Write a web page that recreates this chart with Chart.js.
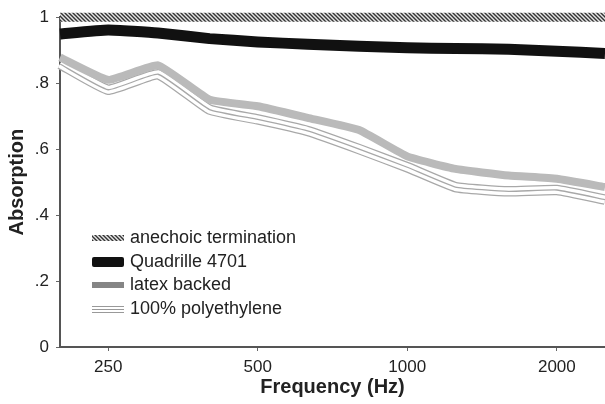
<!DOCTYPE html>
<html>
<head>
<meta charset="utf-8">
<script src="https://cdn.jsdelivr.net/npm/chart.js@4.4.1/dist/chart.umd.min.js"></script>
<style>
  html, body { margin: 0; padding: 0; background: #fff; }
  canvas { display: block; }
</style>
</head>
<body>
<canvas id="absorptionChart" width="605" height="404"></canvas>
<script>
// Third-octave band centre frequencies (Hz)
const freqs = [200, 250, 315, 400, 500, 630, 800, 1000, 1250, 1600, 2000, 2500];

// Absorption values
const anechoic = [1, 1, 1, 1, 1, 1, 1, 1, 1, 1, 1, 1];
const quadrille = [0.949, 0.961, 0.952, 0.935, 0.925, 0.918, 0.912, 0.907, 0.905, 0.903, 0.897, 0.89];
const latex = [0.878, 0.81, 0.854, 0.75, 0.73, 0.695, 0.658, 0.578, 0.54, 0.52, 0.51, 0.485];
const polyethylene = [0.858, 0.78, 0.827, 0.72, 0.69, 0.655, 0.6, 0.545, 0.485, 0.472, 0.476, 0.447];

const seriesLabels = ['anechoic termination', 'Quadrille 4701', 'latex backed', '100% polyethylene'];

// Axis ticks
const xTicks = [250, 500, 1000, 2000];
const yTicks = [0, 0.2, 0.4, 0.6, 0.8, 1];
const yTickLabels = ['0', '.2', '.4', '.6', '.8', '1'];

const FONT = "'Liberation Sans', Arial, Helvetica, sans-serif";
const TEXT = '#222';

const toPoints = vals => vals.map((v, i) => ({ x: freqs[i], y: v }));

// Diagonal hatch used for the anechoic line
function makeHatch() {
  const c = document.createElement('canvas');
  c.width = 4; c.height = 4;
  const g = c.getContext('2d');
  g.fillStyle = '#e6e6e6';
  g.fillRect(0, 0, 4, 4);
  g.strokeStyle = '#333';
  g.lineWidth = 1.4;
  g.beginPath();
  g.moveTo(-1, -1); g.lineTo(5, 5);
  g.moveTo(-5, -1); g.lineTo(1, 5);
  g.moveTo(3, -1); g.lineTo(9, 5);
  g.stroke();
  return g.createPattern(c, 'repeat');
}
const hatch = makeHatch();

const baseLine = {
  pointRadius: 0,
  pointHoverRadius: 0,
  tension: 0.12,
  borderJoinStyle: 'round',
  clip: false,
  fill: false,
};

// Legend drawn inside the plot, lower left
const insideLegend = {
  id: 'insideLegend',
  afterDraw(chart) {
    const ctx = chart.ctx;
    const x0 = 92, x1 = 124, tx = 130;
    const rows = [238, 262, 285, 309];
    ctx.save();
    // anechoic
    ctx.fillStyle = hatch;
    ctx.fillRect(x0, rows[0] - 3, x1 - x0, 6);
    // quadrille
    ctx.fillStyle = '#111';
    ctx.beginPath();
    ctx.roundRect(x0, rows[1] - 5, x1 - x0, 10, 2);
    ctx.fill();
    // latex
    ctx.fillStyle = '#858585';
    ctx.fillRect(x0, rows[2] - 3, x1 - x0, 6);
    // polyethylene
    ctx.strokeStyle = '#999';
    ctx.lineWidth = 1;
    [-3, 0, 3].forEach(d => {
      ctx.beginPath();
      ctx.moveTo(x0, rows[3] + d + 0.5);
      ctx.lineTo(x1, rows[3] + d + 0.5);
      ctx.stroke();
    });
    ctx.fillStyle = TEXT;
    ctx.font = '18px ' + FONT;
    ctx.textBaseline = 'middle';
    ctx.textAlign = 'left';
    seriesLabels.forEach((s, i) => ctx.fillText(s, tx, rows[i]));
    ctx.restore();
  }
};

const ctx = document.getElementById('absorptionChart').getContext('2d');

new Chart(ctx, {
  type: 'line',
  data: {
    datasets: [
      { ...baseLine, label: seriesLabels[0], data: toPoints(anechoic), borderColor: hatch, borderWidth: 9, tension: 0 },
      { ...baseLine, label: seriesLabels[1], data: toPoints(quadrille), borderColor: '#111', borderWidth: 11 },
      { ...baseLine, label: seriesLabels[2], data: toPoints(latex), borderColor: '#bababa', borderWidth: 8 },
      // polyethylene: three thin strands built from one outline
      { ...baseLine, label: seriesLabels[3], data: toPoints(polyethylene), borderColor: '#a8a8a8', borderWidth: 1.3 },
      { ...baseLine, label: '', data: toPoints(polyethylene), borderColor: '#fff', borderWidth: 8 },
      { ...baseLine, label: '', data: toPoints(polyethylene), borderColor: '#a8a8a8', borderWidth: 10.5 },
    ],
  },
  options: {
    responsive: false,
    animation: false,
    layout: { padding: { top: 14, right: 0, left: 0, bottom: 0 } },
    scales: {
      x: {
        type: 'logarithmic',
        min: 200,
        max: 2500,
        afterBuildTicks: s => { s.ticks = xTicks.map(v => ({ value: v })); },
        afterFit: s => { s.height = 57; },
        ticks: {
          callback: v => String(v),
          autoSkip: false,
          maxRotation: 0,
          padding: 6,
          color: TEXT,
          font: { family: FONT, size: 17 },
        },
        grid: { drawOnChartArea: false, drawTicks: true, tickLength: 4, tickColor: '#666' },
        border: { color: '#555', width: 2 },
        title: {
          display: true,
          text: 'Frequency (Hz)',
          color: TEXT,
          font: { family: FONT, size: 20, weight: 'bold' },
          padding: { top: 0, bottom: 5 },
        },
      },
      y: {
        min: 0,
        max: 1,
        afterBuildTicks: s => { s.ticks = yTicks.map(v => ({ value: v })); },
        afterFit: s => { s.width = 60; },
        ticks: {
          callback: (v, i) => yTickLabels[i],
          padding: 7,
          color: TEXT,
          font: { family: FONT, size: 17 },
        },
        grid: { drawOnChartArea: false, drawTicks: true, tickLength: 4, tickColor: '#666' },
        border: { color: '#555', width: 2 },
        title: {
          display: true,
          text: 'Absorption',
          color: TEXT,
          font: { family: FONT, size: 20, weight: 'bold' },
          padding: { top: 5, bottom: 0 },
        },
      },
    },
    plugins: {
      legend: { display: false },
      tooltip: { enabled: false },
    },
  },
  plugins: [insideLegend],
});
</script>
</body>
</html>
